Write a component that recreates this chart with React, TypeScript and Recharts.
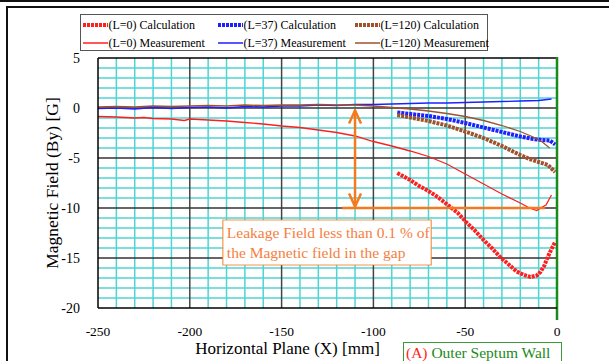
import React from "react";
import { ComposedChart, Line, XAxis, YAxis, ReferenceLine, ReferenceArea, Label } from "recharts";

// x positions [mm] and field values [G]
const meas0X = [-250, -240, -230, -225, -220, -210, -203, -200, -190, -180, -170, -160, -150, -140, -130, -120, -110, -100, -90, -80, -70, -60, -50, -40, -30, -20, -15, -11, -8, -6, -3];
const meas0Y = [-0.85, -0.9, -1.0, -0.95, -1.05, -1.1, -1.25, -1.1, -1.2, -1.3, -1.45, -1.6, -1.8, -1.95, -2.2, -2.45, -2.8, -3.35, -3.8, -4.3, -4.85, -5.6, -6.6, -7.6, -8.6, -9.5, -10.0, -10.25, -9.9, -9.7, -8.7];

const calc0X = [-87, -80, -76, -70, -65, -58, -54, -49, -45, -40, -35, -31, -26, -22, -18, -14.5, -11, -9, -7, -5, -3, -1];
const calc0Y = [-6.5, -7.2, -7.7, -8.3, -8.9, -9.9, -10.5, -11.5, -12.2, -13.2, -14.1, -14.9, -15.7, -16.35, -16.7, -16.9, -16.75, -16.4, -15.8, -14.9, -14.1, -13.4];

const meas37X = [-250, -240, -230, -220, -210, -200, -190, -180, -170, -160, -150, -140, -130, -120, -110, -100, -90, -80, -70, -60, -50, -40, -30, -20, -10, -3];
const meas37Y = [-0.05, 0.0, -0.1, 0.05, -0.05, 0.05, 0.1, 0.0, 0.15, 0.1, 0.2, 0.2, 0.3, 0.25, 0.35, 0.35, 0.4, 0.45, 0.5, 0.5, 0.55, 0.6, 0.65, 0.7, 0.75, 0.9];

const calc37X = [-87, -80, -70, -60, -50, -40, -30, -20, -13, -8, -4, -1];
const calc37Y = [-0.45, -0.6, -0.8, -1.1, -1.5, -1.95, -2.4, -2.85, -3.1, -3.2, -3.25, -3.65];

const meas120X = [-250, -240, -230, -220, -210, -200, -190, -180, -170, -160, -150, -140, -130, -120, -110, -100, -90, -80, -70, -60, -50, -40, -30, -20, -13, -8, -4];
const meas120Y = [0.1, 0.15, 0.1, 0.2, 0.15, 0.2, 0.25, 0.2, 0.3, 0.25, 0.3, 0.3, 0.35, 0.3, 0.3, 0.2, 0.05, -0.1, -0.3, -0.55, -0.85, -1.25, -1.75, -2.35, -2.9, -3.4, -4.0];

const calc120X = [-87, -80, -70, -60, -50, -40, -30, -20, -15, -10, -5, -1];
const calc120Y = [-0.7, -0.95, -1.3, -1.75, -2.35, -3.0, -3.8, -4.7, -5.1, -5.4, -5.7, -6.4];

const xTicks = [-250, -200, -150, -100, -50, 0];
const yTicks = [-20, -15, -10, -5, 0, 5];
const xMinor = [-240, -230, -220, -210, -190, -180, -170, -160, -140, -130, -120, -110, -90, -80, -70, -60, -40, -30, -20, -10];
const yMinor = [4, 3, 2, 1, -1, -2, -3, -4, -6, -7, -8, -9, -11, -12, -13, -14, -16, -17, -18, -19];
const xMajor = [-200, -150, -100, -50];
const yMajor = [0, -5, -10, -15];

const toPoints = (xs: number[], ys: number[]) => xs.map((x, i) => ({ x, y: ys[i] }));

const RED = "#ff1f1f";
const BLUE = "#1f1fff";
const BROWN = "#a0522d";
const ORANGE = "#f47a1f";
const GREEN = "#1a8a1a";
const CYAN = "#4fd4d4";

const series = [
  { name: "(L=0) Calculation", color: RED, calc: true, data: toPoints(calc0X, calc0Y) },
  { name: "(L=37) Calculation", color: BLUE, calc: true, data: toPoints(calc37X, calc37Y) },
  { name: "(L=120) Calculation", color: BROWN, calc: true, data: toPoints(calc120X, calc120Y) },
  { name: "(L=0) Measurement", color: RED, calc: false, data: toPoints(meas0X, meas0Y) },
  { name: "(L=37) Measurement", color: BLUE, calc: false, data: toPoints(meas37X, meas37Y) },
  { name: "(L=120) Measurement", color: BROWN, calc: false, data: toPoints(meas120X, meas120Y) },
];

const FONT = '"Liberation Serif", "Times New Roman", serif';

const ArrowShape = (p: any) => {
  const x = p.x1;
  const top = Math.min(p.y1, p.y2);
  const bot = Math.max(p.y1, p.y2);
  return (
    <g stroke={ORANGE} strokeWidth={2.5} fill="none">
      <line x1={x} y1={top} x2={x} y2={bot} />
      <polyline points={`${x - 6},${top + 13} ${x},${top} ${x + 6},${top + 13}`} />
      <polyline points={`${x - 6},${bot - 13} ${x},${bot} ${x + 6},${bot - 13}`} />
    </g>
  );
};

const WallShape = (p: any) => (
  <line x1={p.x1} y1={Math.min(p.y1, p.y2) - 1} x2={p.x2} y2={Math.max(p.y1, p.y2) + 12} stroke={GREEN} strokeWidth={2.5} />
);

const NoteLabel = (p: any) => {
  const vb = p.viewBox || {};
  return (
    <g fontFamily={FONT} fontSize={15.5} fill="#f58040">
      <text x={vb.x + 4} y={vb.y + 18}>Leakage Field less than 0.1 % of</text>
      <text x={vb.x + 4} y={vb.y + 38}>the Magnetic field in the gap</text>
    </g>
  );
};

const LegendBox = () => {
  const cols = [83, 218, 355];
  return (
    <div style={{ position: "absolute", left: 80, top: 14, width: 406, height: 35, border: "1.5px solid #555", background: "#fff" }}>
      {series.map((s, i) => {
        const col = i % 3;
        const row = Math.floor(i / 3);
        return (
          <div key={s.name} style={{ position: "absolute", left: cols[col] - 81.5, top: 1 + row * 18, height: 18, display: "flex", alignItems: "center", fontSize: 12, whiteSpace: "nowrap" }}>
            <svg width={25} height={8} style={{ marginRight: 1 }}>
              <line x1={0} y1={4} x2={25} y2={4} stroke={s.color} strokeWidth={s.calc ? 4 : 1.5} strokeDasharray={s.calc ? "3 1" : undefined} />
            </svg>
            <span>{s.name}</span>
          </div>
        );
      })}
    </div>
  );
};

export default function App() {
  return (
    <div style={{ position: "absolute", left: 0, top: 0, width: 609, height: 361, overflow: "hidden", background: "#fff", fontFamily: FONT }}>
      <div style={{ position: "absolute", left: 0, top: 0, width: 609, height: 2, background: "#111" }} />
      <div style={{ position: "absolute", left: 6, top: 6, width: 640, height: 400, border: "2px solid #111" }} />
      <ComposedChart width={609} height={361} margin={{ top: 58, right: 52, bottom: 23, left: 38 }} style={{ position: "absolute", left: 0, top: 0 }}>
        <XAxis
          type="number"
          dataKey="x"
          domain={[-250, 0]}
          ticks={xTicks}
          interval={0}
          height={30}
          tickLine={false}
          tickMargin={12}
          axisLine={{ stroke: "#000", strokeWidth: 1.5 }}
          tick={{ fill: "#000", fontSize: 13.5, fontFamily: FONT }}
        >
          <Label value="Horizontal Plane (X) [mm]" position="bottom" offset={4} dx={-40} style={{ fill: "#000", fontSize: 17, fontFamily: FONT }} />
        </XAxis>
        <YAxis
          type="number"
          dataKey="y"
          domain={[-20, 5]}
          ticks={yTicks}
          interval={0}
          width={60}
          tickLine={false}
          tickMargin={12}
          axisLine={{ stroke: "#000", strokeWidth: 1.5 }}
          tick={{ fill: "#000", fontSize: 14, fontFamily: FONT }}
        >
          <Label value="Magnetic Field (By) [G]" angle={-90} position="insideLeft" offset={14} style={{ textAnchor: "middle", fill: "#000", fontSize: 17.5, fontFamily: FONT }} />
        </YAxis>

        {xMinor.map((v) => (
          <ReferenceLine key={"xm" + v} x={v} stroke={CYAN} strokeWidth={1.5} zIndex={-100} />
        ))}
        {yMinor.map((v) => (
          <ReferenceLine key={"ym" + v} y={v} stroke={CYAN} strokeWidth={1.5} zIndex={-100} />
        ))}
        {xMajor.map((v) => (
          <ReferenceLine key={"xM" + v} x={v} stroke="#444" strokeWidth={1.5} zIndex={-90} />
        ))}
        {yMajor.map((v) => (
          <ReferenceLine key={"yM" + v} y={v} stroke="#333" strokeWidth={1.5} zIndex={-90} />
        ))}
        <ReferenceLine y={5} stroke="#000" strokeWidth={1.5} zIndex={-90} />

        <ReferenceArea x1={-182} x2={-68.5} y1={-15.7} y2={-11.2} fill="#fff" fillOpacity={1} stroke={ORANGE} strokeOpacity={0.8} strokeWidth={1.2} label={NoteLabel} zIndex={-50} />

        {series.map((s) => (
          <Line
            key={s.name}
            data={s.data}
            dataKey="y"
            type="linear"
            stroke={s.color}
            strokeWidth={s.calc ? 4 : 1.3}
            strokeDasharray={s.calc ? "3 1" : undefined}
            dot={false}
            activeDot={false}
            isAnimationActive={false}
          />
        ))}

        <ReferenceLine segment={[{ x: -110, y: -0.25 }, { x: -110, y: -9.85 }]} shape={ArrowShape} zIndex={450} />
        <ReferenceLine segment={[{ x: -117, y: -10 }, { x: -6.5, y: -10 }]} stroke={ORANGE} strokeWidth={2.5} zIndex={450} />
        <ReferenceLine x={0} shape={WallShape} zIndex={460} />
      </ComposedChart>
      <LegendBox />
      <div style={{ position: "absolute", left: 403, top: 342, width: 155, height: 30, border: "1px solid #3a9a3a", fontSize: 15.5, paddingLeft: 2, lineHeight: "19px" }}>
        <span style={{ color: RED }}>(A)</span> <span style={{ color: GREEN }}>Outer Septum Wall</span>
      </div>
    </div>
  );
}
